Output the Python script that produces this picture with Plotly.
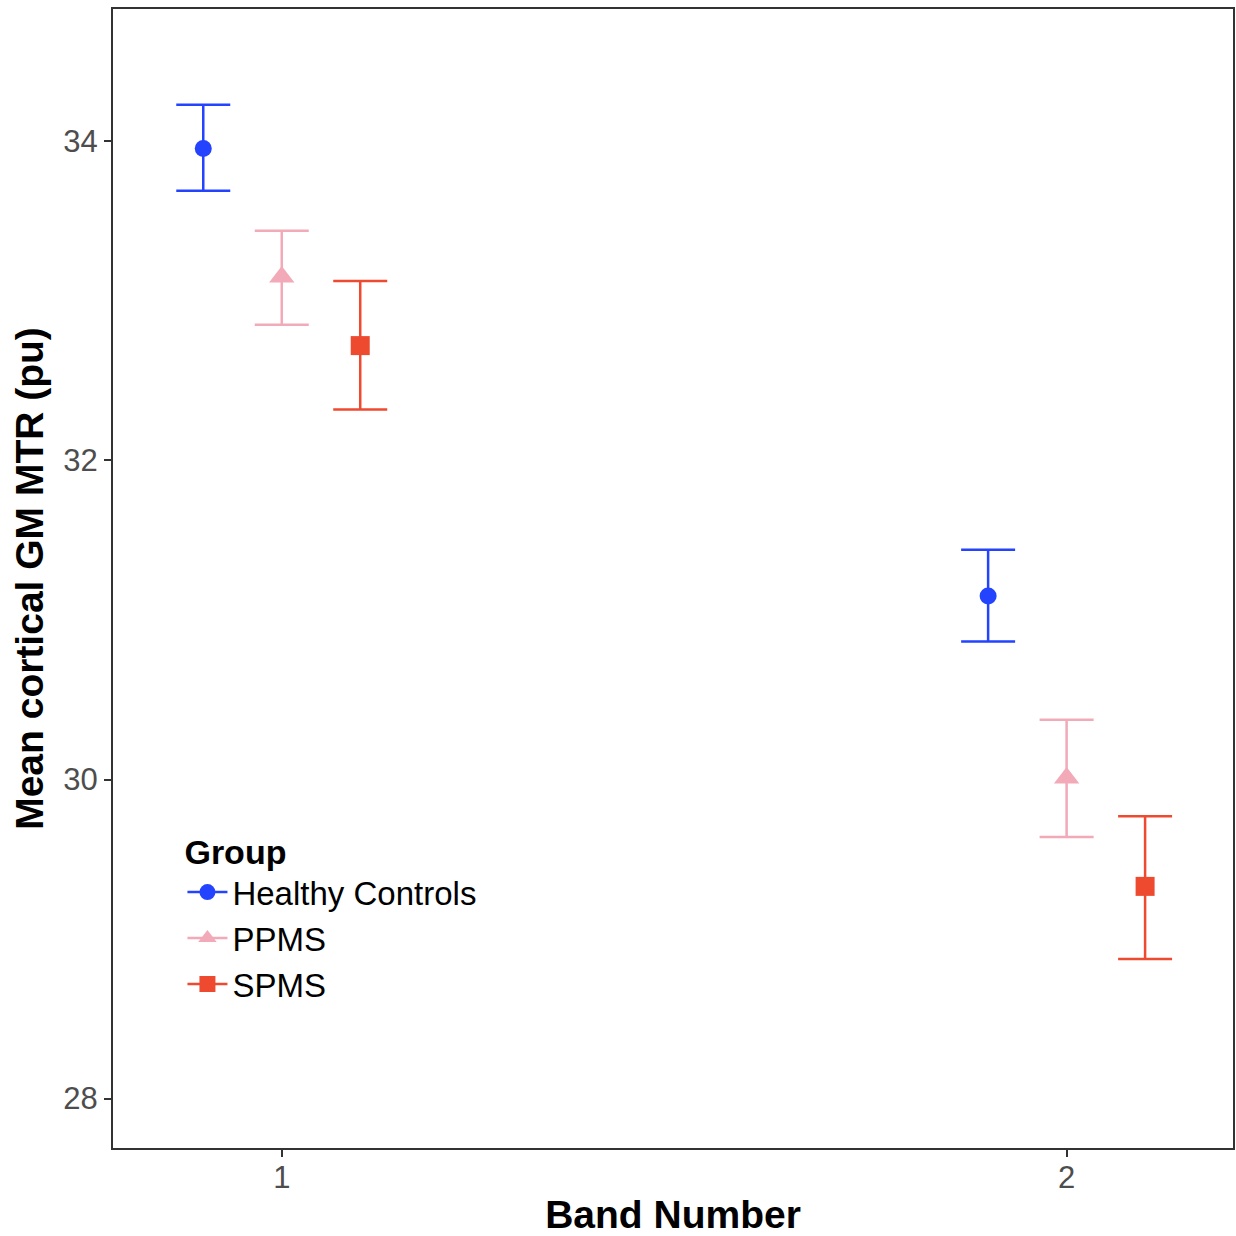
import plotly.graph_objects as go

bands = [1, 2]
groups = ["Healthy Controls", "PPMS", "SPMS"]
means = {
    "Healthy Controls": [33.955, 31.15],
    "PPMS": [33.15, 30.01],
    "SPMS": [32.72, 29.33],
}
upper = {
    "Healthy Controls": [34.23, 31.44],
    "PPMS": [33.44, 30.375],
    "SPMS": [33.125, 29.77],
}
lower = {
    "Healthy Controls": [33.69, 30.865],
    "PPMS": [32.85, 29.64],
    "SPMS": [32.32, 28.875],
}
dodge = {"Healthy Controls": -0.1, "PPMS": 0.0, "SPMS": 0.1}
colors = {"Healthy Controls": "#2343FF", "PPMS": "#F2A9B8", "SPMS": "#EE4A30"}
symbols = {"Healthy Controls": "circle", "PPMS": "triangle-up", "SPMS": "square"}
sizes = {"Healthy Controls": 17, "PPMS": 22, "SPMS": 19}

fig = go.Figure()
for g in groups:
    xs = [b + dodge[g] for b in bands]
    fig.add_trace(go.Scatter(
        x=xs, y=means[g], mode="markers", showlegend=False,
        marker=dict(symbol=symbols[g], color=colors[g], size=sizes[g]),
        error_y=dict(type="data", symmetric=False,
                     array=[u - m for u, m in zip(upper[g], means[g])],
                     arrayminus=[m - l for m, l in zip(means[g], lower[g])],
                     color=colors[g], thickness=2.5, width=27),
    ))
    fig.add_trace(go.Scatter(
        x=[None], y=[None], mode="lines+markers", name=g,
        line=dict(color=colors[g], width=2.5),
        marker=dict(symbol=symbols[g], color=colors[g], size=sizes[g]),
    ))

fig.update_layout(
    width=1236, height=1236,
    margin=dict(l=113, r=1, t=9, b=80),
    paper_bgcolor="white", plot_bgcolor="white",
    font=dict(family="Liberation Sans, Arial, sans-serif", color="#4d4d4d", size=31),
    legend=dict(
        title=dict(text="<b>Group</b>", font=dict(size=34, color="black")),
        font=dict(size=33, color="black"),
        x=0.062, y=0.288, xanchor="left", yanchor="top",
        bgcolor="rgba(0,0,0,0)", tracegroupgap=0, itemwidth=40,
    ),
    xaxis=dict(
        range=[0.785, 2.212], tickvals=bands, ticktext=["1", "2"],
        showgrid=False, zeroline=False, showline=True, linecolor="#333333",
        linewidth=2, mirror=True, ticks="outside", ticklen=7, tickwidth=2,
        tickcolor="#333333", ticklabelstandoff=-6,
        title=dict(text="<b>Band Number</b>", font=dict(size=39, color="black"), standoff=12),
    ),
    yaxis=dict(
        range=[27.69, 34.83], tickvals=[28, 30, 32, 34],
        showgrid=False, zeroline=False, showline=True, linecolor="#333333",
        linewidth=2, mirror=True, ticks="outside", ticklen=7, tickwidth=2,
        tickcolor="#333333",
        title=dict(text="<b>Mean cortical GM MTR (pu)</b>", font=dict(size=39, color="black"), standoff=8),
    ),
)

fig.write_html("out.html", config={"displayModeBar": False},
               post_script="document.body.style.margin='0';")
